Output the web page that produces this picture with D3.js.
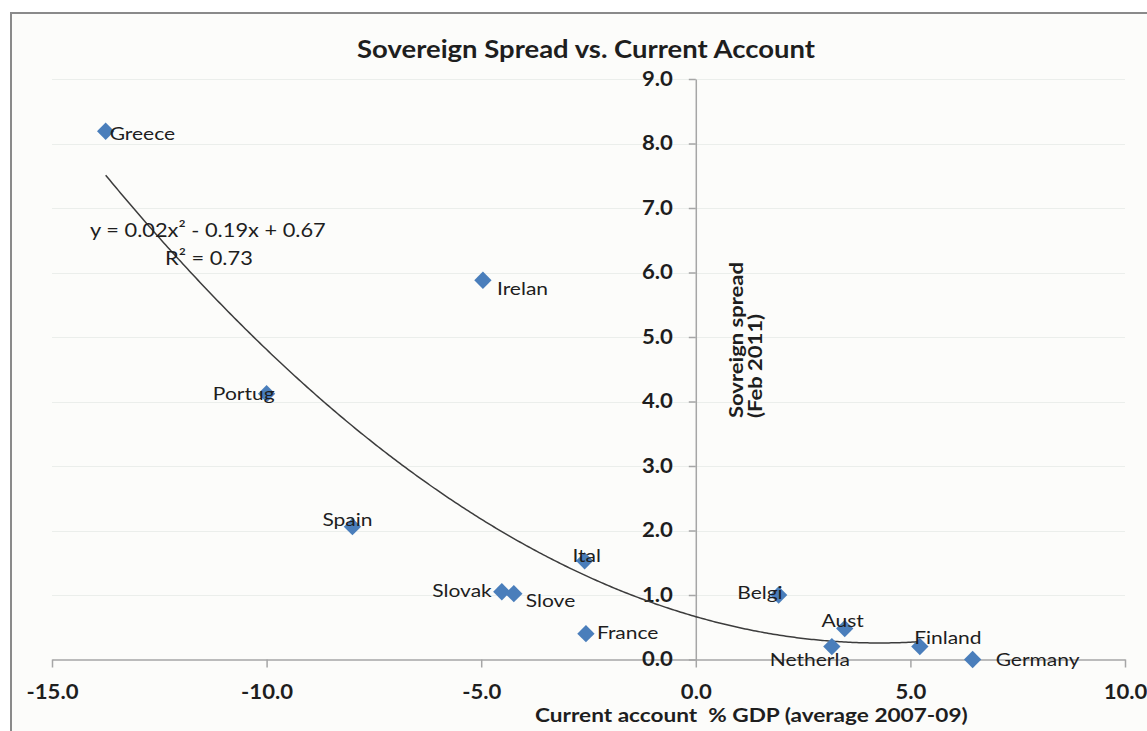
<!DOCTYPE html>
<html><head><meta charset="utf-8">
<script src="https://cdn.jsdelivr.net/npm/d3@7"></script>
<style>
body{margin:0;background:#fff;}
svg{display:block;}
text{font-family:Lato,"Open Sans",sans-serif;fill:#1e1e1e;}
</style>
</head><body>
<svg id="c" width="1147" height="731"></svg>
<script>
// ---- data ----
const countries = ["Greece","Ireland","Portugal","Spain","Italy","Slovakia","Slovenia","France","Belgium","Austria","Netherlands","Finland","Germany"];
const pointLabels = ["Greece","Irelan","Portug","Spain","Ital","Slovak","Slove","France","Belgi","Aust","Netherla","Finland","Germany"];
const currentAccount = [-13.75,-4.96,-10.0,-8.0,-2.59,-4.52,-4.24,-2.56,1.93,3.47,3.17,5.22,6.45];
const spread = [8.19,5.88,4.12,2.06,1.53,1.05,1.02,0.40,1.00,0.48,0.20,0.20,0.00];
const xTicks = [-15,-10,-5,0,5,10];
const yTicks = [0,1,2,3,4,5,6,7,8,9];
const title = "Sovereign Spread vs. Current Account";
const xTitle = "Current account  % GDP (average 2007-09)";
const yTitle = ["Sovreign spread","(Feb 2011)"];
const eqText = ["y = 0.02x\u00B2 - 0.19x + 0.67","R\u00B2 = 0.73"];
const trendRange = [-13.75, 5.22];

// ---- label placement (layout only) ----
const labelPlace = {
  "Greece":["start",4,2], "Irelan":["start",14,8], "Portug":["end",8,0], "Spain":["middle",-5,-7],
  "Ital":["middle",2,-5], "Slovak":["end",-10,-1], "Slove":["start",12,7], "France":["start",11,-1],
  "Belgi":["end",4,-2], "Aust":["middle",-2,-8], "Netherla":["middle",-22,13], "Finland":["middle",28,-9],
  "Germany":["start",23,0]
};

const W=1147,H=731;
const svg=d3.select("#c");
const x=d3.scaleLinear().domain([xTicks[0],xTicks[xTicks.length-1]]).range([52,1125]);
const y=d3.scaleLinear().domain([yTicks[0],yTicks[yTicks.length-1]]).range([659.5,79]);
const fmt=d=>d.toFixed(1);

svg.append("rect").attr("width",W).attr("height",H).attr("fill","#fff");
svg.append("rect").attr("x",11).attr("y",13).attr("width",W+20).attr("height",H+20)
  .attr("fill","#fcfcfa").attr("stroke","#8a8a8a").attr("stroke-width",2);

function stretch(sel,target){
  const n=sel.node(); const w=n.getComputedTextLength();
  return target/w;
}

// gridlines
svg.append("g").selectAll("line").data(yTicks.filter(d=>d>0)).join("line")
  .attr("x1",x.range()[0]).attr("x2",x.range()[1])
  .attr("y1",d=>Math.round(y(d))+0.5).attr("y2",d=>Math.round(y(d))+0.5)
  .attr("stroke","#ebeeeb").attr("stroke-width",1);

// x axis
const gx=svg.append("g").attr("transform",`translate(0,${y(0)})`)
  .call(d3.axisBottom(x).tickValues(xTicks).tickFormat(fmt).tickSize(8).tickSizeOuter(0).tickPadding(17));
gx.select(".domain").attr("stroke","#a6a6a6").attr("stroke-width",1.5);
gx.selectAll(".tick line").attr("stroke","#a6a6a6").attr("stroke-width",1.5);
gx.selectAll(".tick text").attr("font-size",20).attr("font-weight","bold").attr("fill","#1e1e1e")
  .style("font-family","Lato");

// y axis
const gy=svg.append("g").attr("transform",`translate(${x(0)},0)`)
  .call(d3.axisLeft(y).tickValues(yTicks).tickFormat(fmt).tickSize(7).tickSizeOuter(0).tickPadding(16));
gy.select(".domain").attr("stroke","#a6a6a6").attr("stroke-width",1.5);
gy.selectAll(".tick line").attr("stroke","#a6a6a6").attr("stroke-width",1.5);
gy.selectAll(".tick text").attr("font-size",20).attr("font-weight","bold").attr("fill","#1e1e1e")
  .style("font-family","Lato");

// stretch tick labels horizontally
{
  const t=gx.selectAll(".tick text").filter(d=>d===-15);
  const sx=stretch(t,52);
  gx.selectAll(".tick text").each(function(){
    const s=d3.select(this); const yy=+s.attr("y");
    s.attr("transform",`translate(0,${yy}) scale(${sx},1)`).attr("y",0);
  });
  gy.selectAll(".tick text").each(function(){
    const s=d3.select(this); const xx=+s.attr("x");
    s.attr("transform",`translate(${xx},0) scale(${sx},1)`).attr("x",0);
  });
}

// quadratic least-squares trendline from data
function quadFit(xs,ys){
  let S=[0,0,0,0,0],T=[0,0,0];
  xs.forEach((xv,i)=>{let p=1;for(let k=0;k<5;k++){S[k]+=p;if(k<3)T[k]+=p*ys[i];p*=xv;}});
  const A=[[S[0],S[1],S[2],T[0]],[S[1],S[2],S[3],T[1]],[S[2],S[3],S[4],T[2]]];
  for(let i=0;i<3;i++){for(let j=i+1;j<3;j++){const f=A[j][i]/A[i][i];for(let k=i;k<4;k++)A[j][k]-=f*A[i][k];}}
  const c=[0,0,0];
  for(let i=2;i>=0;i--){let s=A[i][3];for(let k=i+1;k<3;k++)s-=A[i][k]*c[k];c[i]=s/A[i][i];}
  return c; // c0 + c1 x + c2 x^2
}
const coef=quadFit(currentAccount,spread);
const trendX=d3.range(trendRange[0],trendRange[1],0.05).concat([trendRange[1]]);
svg.append("path").datum(trendX)
  .attr("d",d3.line().x(d=>x(d)).y(d=>y(coef[0]+coef[1]*d+coef[2]*d*d)))
  .attr("fill","none").attr("stroke","#3c3c3c").attr("stroke-width",1.5);

// markers
const pts=countries.map((c,i)=>({c,lab:pointLabels[i],x:currentAccount[i],y:spread[i]}));
svg.append("g").selectAll("path").data(pts).join("path")
  .attr("d",d3.symbol(d3.symbolSquare,150))
  .attr("transform",d=>`translate(${x(d.x)},${y(d.y)}) rotate(45)`)
  .attr("fill","#4a7ebb");

// labels
const lg=svg.append("g");
const labs=lg.selectAll("text").data(pts).join("text")
  .text(d=>d.lab).attr("font-size",18).attr("dy","0.35em")
  .attr("text-anchor",d=>labelPlace[d.lab][0]);
const lsx=stretch(labs.filter(d=>d.lab==="Germany"),84);
labs.attr("transform",d=>`translate(${x(d.x)+labelPlace[d.lab][1]},${y(d.y)+labelPlace[d.lab][2]}) scale(${lsx},1)`);

// title
const tt=svg.append("text").text(title).attr("font-size",25).attr("font-weight","bold")
  .attr("text-anchor","middle").attr("fill","#1a1a1a");
tt.attr("transform",`translate(586,58) scale(${stretch(tt,458)},1)`);

// x title
const xt=svg.append("text").text(xTitle).attr("font-size",19).attr("font-weight","bold")
  .attr("text-anchor","start").style("white-space","pre").attr("xml:space","preserve");
xt.attr("transform",`translate(535,722) scale(${stretch(xt,433)},1)`);

// y title (rotated)
const yt1=svg.append("text").text(yTitle[0]).attr("font-size",18).attr("font-weight","bold");
const ysx=stretch(yt1,156);
yt1.attr("transform",`translate(743,418) rotate(-90) scale(${ysx},1)`);
svg.append("text").text(yTitle[1]).attr("font-size",18).attr("font-weight","bold")
  .attr("transform",`translate(762,418) rotate(-90) scale(${ysx},1)`);

// equation
const e1=svg.append("text").text(eqText[0]).attr("font-size",20).attr("text-anchor","start");
const esx=stretch(e1,236);
e1.attr("transform",`translate(90,237) scale(${esx},1)`);
svg.append("text").text(eqText[1]).attr("font-size",20).attr("text-anchor","start")
  .attr("transform",`translate(165,265) scale(${esx},1)`);
</script>
</body></html>
